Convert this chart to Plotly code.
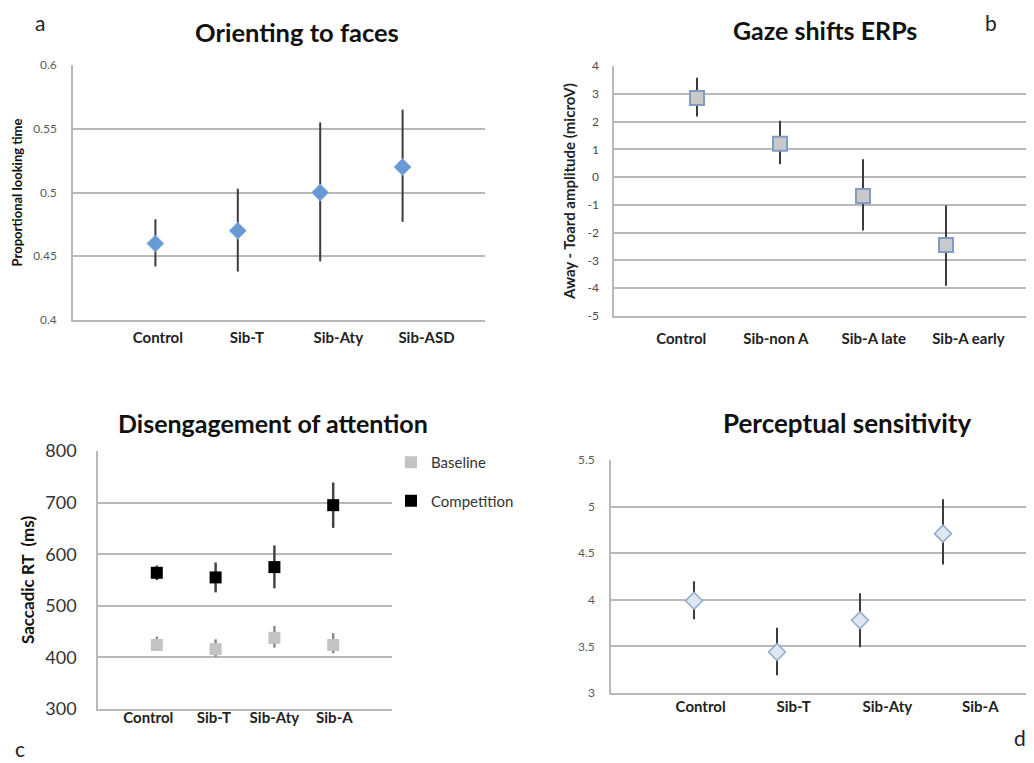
import plotly.graph_objects as go

# the page shows the figure 8 px in from the top-left corner of the window
OFF = 8
W, H = 1034 - OFF, 763 - OFF

# ---------------- data ----------------
# Panel a: Orienting to faces
a_cats = ["Control", "Sib-T", "Sib-Aty", "Sib-ASD"]
a_mean = [0.460, 0.470, 0.500, 0.520]
a_upper = [0.479, 0.503, 0.555, 0.565]
a_lower = [0.442, 0.438, 0.446, 0.477]
a_yticks = [0.4, 0.45, 0.5, 0.55, 0.6]

# Panel b: Gaze shifts ERPs
b_cats = ["Control", "Sib-non A", "Sib-A late", "Sib-A early"]
b_mean = [2.85, 1.20, -0.68, -2.44]
b_upper = [3.58, 2.03, 0.64, -1.02]
b_lower = [2.18, 0.46, -1.92, -3.91]
b_yticks = [-5, -4, -3, -2, -1, 0, 1, 2, 3, 4]

# Panel c: Disengagement of attention
c_cats = ["Control", "Sib-T", "Sib-Aty", "Sib-A"]
c_series = ["Baseline", "Competition"]
c_base_mean = [424, 416, 438, 424]
c_base_upper = [440, 435, 461, 447]
c_base_lower = [413, 401, 419, 408]
c_comp_mean = [564, 555, 575, 695]
c_comp_upper = [578, 584, 617, 739]
c_comp_lower = [550, 526, 534, 651]
c_yticks = [300, 400, 500, 600, 700, 800]

# Panel d: Perceptual sensitivity
d_cats = ["Control", "Sib-T", "Sib-Aty", "Sib-A"]
d_mean = [3.99, 3.44, 3.78, 4.71]
d_upper = [4.20, 3.70, 4.07, 5.08]
d_lower = [3.79, 3.19, 3.49, 4.38]
d_yticks = [3, 3.5, 4, 4.5, 5, 5.5]

titles = ["Orienting to faces", "Gaze shifts ERPs",
          "Disengagement of attention", "Perceptual sensitivity"]
panel_letters = ["a", "b", "c", "d"]

# ---------------- helpers ----------------
FONT = "Lato"
GRID = "#b9b9b9"
ERR = "#3c3c3c"


def plus(m, u):
    return [ui - mi for mi, ui in zip(m, u)]


def minus(m, l):
    return [mi - li for mi, li in zip(m, l)]


def xpos(cats):
    return [i + 1 for i in range(len(cats))]


def px(x):
    return (x - OFF) / W


def py(y):
    return 1 - (y - OFF) / H


fig = go.Figure()

# Panel a
fig.add_trace(go.Scatter(
    x=xpos(a_cats), y=a_mean, mode="markers", xaxis="x", yaxis="y", showlegend=False,
    marker=dict(symbol="diamond", size=13, color="#6699d6", line=dict(color="#8db2e0", width=1)),
    error_y=dict(type="data", symmetric=False, array=plus(a_mean, a_upper),
                 arrayminus=minus(a_mean, a_lower), color=ERR, thickness=2, width=0)))

# Panel b
fig.add_trace(go.Scatter(
    x=xpos(b_cats), y=b_mean, mode="markers", xaxis="x2", yaxis="y2", showlegend=False,
    marker=dict(symbol="square", size=14, color="#c9c9c9", line=dict(color="#7f9dc3", width=2)),
    error_y=dict(type="data", symmetric=False, array=plus(b_mean, b_upper),
                 arrayminus=minus(b_mean, b_lower), color=ERR, thickness=2, width=0)))

# Panel c
fig.add_trace(go.Scatter(
    x=xpos(c_cats), y=c_base_mean, mode="markers", xaxis="x3", yaxis="y3", name=c_series[0],
    legendgroup="g1",
    marker=dict(symbol="square", size=12, color="#c3c3c3"),
    error_y=dict(type="data", symmetric=False, array=plus(c_base_mean, c_base_upper),
                 arrayminus=minus(c_base_mean, c_base_lower), color="#8a8a8a", thickness=2.5, width=0)))
fig.add_trace(go.Scatter(
    x=xpos(c_cats), y=c_comp_mean, mode="markers", xaxis="x3", yaxis="y3", name=c_series[1],
    legendgroup="g2",
    marker=dict(symbol="square", size=12, color="#000000"),
    error_y=dict(type="data", symmetric=False, array=plus(c_comp_mean, c_comp_upper),
                 arrayminus=minus(c_comp_mean, c_comp_lower), color="#444444", thickness=2.5, width=0)))

# Panel d
fig.add_trace(go.Scatter(
    x=xpos(d_cats), y=d_mean, mode="markers", xaxis="x4", yaxis="y4", showlegend=False,
    marker=dict(symbol="diamond", size=13, color="#dde6f1", line=dict(color="#8eaacb", width=1.5)),
    error_y=dict(type="data", symmetric=False, array=plus(d_mean, d_upper),
                 arrayminus=minus(d_mean, d_lower), color=ERR, thickness=2, width=0)))

# ---------------- axes ----------------
# plot areas in window pixels: (left, right, top, bottom)
areas = [(73, 485, 65, 320), (614, 1029, 66, 316), (98, 392, 451, 709), (611, 1026, 460, 693)]
label_shift = [[0.03, 0.11, 0.22, 0.29], [-0.19, -0.05, 0.13, 0.27],
               [-0.145, -0.03, 0.0, 0.02], [0.08, 0.20, 0.33, 0.45]]
cats_all = [a_cats, b_cats, c_cats, d_cats]
yranges = [[0.4, 0.6], [-5, 4], [300, 800], [3, 5.5]]
yticks_all = [a_yticks, b_yticks, c_yticks, d_yticks]
ytick_fmt = [
    ["0.4", "0.45", "0.5", "0.55", "0.6"],
    [str(v) for v in b_yticks],
    [str(v) for v in c_yticks],
    ["3", "3.5", "4", "4.5", "5", "5.5"],
]
ytick_font = [dict(size=12, color="#5a5a5a"), dict(size=12, color="#4a4a4a"),
              dict(size=18, color="#333333"), dict(size=12, color="#5a5a5a")]
ytitles = ["Proportional looking time", "Away - Toard amplitude (microV)", "Saccadic RT  (ms)", ""]
ytitle_font = [dict(size=13, color="#111111", weight="bold"), dict(size=15, color="#222222", weight="bold"),
               dict(size=17, color="#111111", weight="bold"), dict(size=12)]
ytitle_standoff = [8, 8, 6, 0]
ylabel_standoff = [12, 11, 16, 12]
xlabel_standoff = [3, 8, -6, -1]

for i in range(4):
    l, r, t, b = areas[i]
    sfx = "" if i == 0 else str(i + 1)
    cats = cats_all[i]
    fig.layout["xaxis" + sfx] = dict(
        domain=[px(l), px(r)], anchor="y" + sfx, range=[0, 5],
        tickmode="array",
        tickvals=[k + 1 + label_shift[i][k] for k in range(len(cats))],
        ticktext=cats, ticks="", showgrid=False, zeroline=False,
        showline=True, linecolor=GRID, linewidth=1.5,
        tickfont=dict(family=FONT, size=15, color="#222222", weight="bold"),
        ticklabelstandoff=xlabel_standoff[i], automargin=False, fixedrange=True)
    fig.layout["yaxis" + sfx] = dict(
        domain=[py(b), py(t)], anchor="x" + sfx, range=yranges[i],
        tickmode="array", tickvals=yticks_all[i], ticktext=ytick_fmt[i], ticks="",
        showgrid=True, gridcolor=GRID, gridwidth=1.5, zeroline=False,
        showline=True, linecolor=GRID, linewidth=1.5,
        tickfont=dict(family=FONT, **ytick_font[i]),
        ticklabelstandoff=ylabel_standoff[i], automargin=False,
        title=dict(text=ytitles[i], font=dict(family=FONT, **ytitle_font[i]),
                   standoff=ytitle_standoff[i]),
        fixedrange=True)

# ---------------- annotations ----------------
title_pos = [(297, 32, 25.5), (825, 30, 25), (273, 423, 25), (847, 423, 26)]
# (x, y, yanchor) in window pixels
letter_pos = [(40, 8, "top"), (991, 22, "middle"), (20, 763, "bottom"), (1020, 737, "middle")]
ann = []
for i in range(4):
    x, y, s = title_pos[i]
    ann.append(dict(x=px(x), y=py(y), xref="paper", yref="paper", text=titles[i],
                    showarrow=False, xanchor="center", yanchor="middle",
                    font=dict(family=FONT, size=s, color="#111111", weight="bold")))
    lx, ly, ya = letter_pos[i]
    ann.append(dict(x=px(lx), y=py(ly), xref="paper", yref="paper", text=panel_letters[i],
                    showarrow=False, xanchor="center", yanchor=ya,
                    font=dict(family=FONT, size=21, color="#222222")))

fig.update_layout(
    width=W, height=H, margin=dict(l=0, r=0, t=0, b=0, pad=0, autoexpand=False),
    paper_bgcolor="white", plot_bgcolor="white",
    font=dict(family=FONT),
    annotations=ann,
    legend=dict(x=px(391), y=py(446), xanchor="left", yanchor="top",
                bgcolor="rgba(0,0,0,0)", itemwidth=30, tracegroupgap=16,
                font=dict(family=FONT, size=15, color="#333333")),
)

fig.write_html("out.html")
